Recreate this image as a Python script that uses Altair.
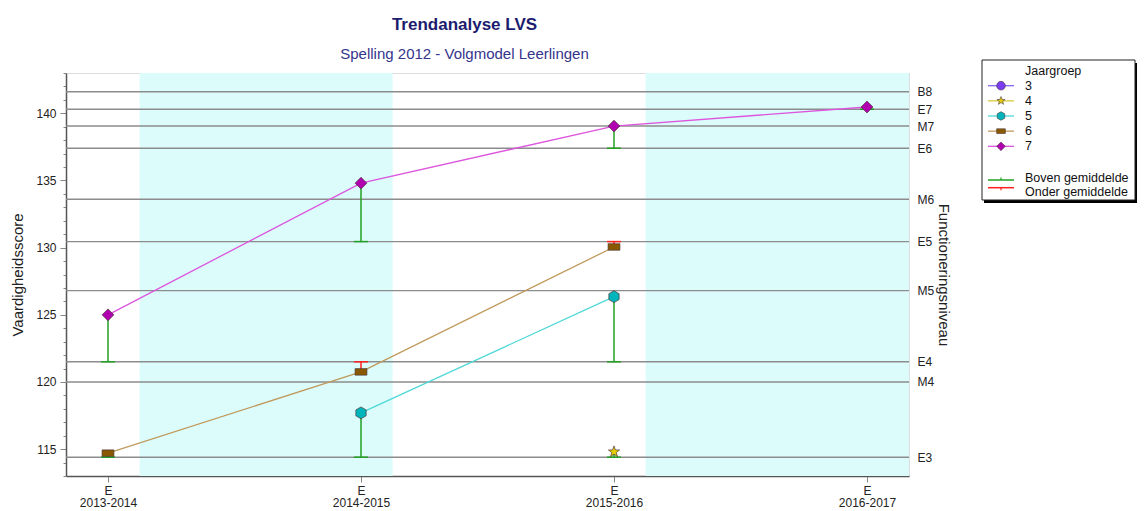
import altair as alt
import pandas as pd

# ---------------- data ----------------
years = ["2013-2014", "2014-2015", "2015-2016", "2016-2017"]
period = ["E", "E", "E", "E"]
groups = ["3", "4", "5", "6", "7"]

score_3 = [None, None, None, None]
score_4 = [None, None, 114.8, None]
score_5 = [None, 117.7, 126.35, None]
score_6 = [114.7, 120.75, 130.05, None]
score_7 = [125.0, 134.8, 139.05, 140.47]

norm_3 = [None, None, None, None]
norm_4 = [None, None, "E3", None]
norm_5 = [None, "E3", "E4", None]
norm_6 = ["E3", "E4", "E5", None]
norm_7 = ["E4", "E5", "E6", "E7"]

level_names = ["E3", "M4", "E4", "M5", "E5", "M6", "E6", "M7", "E7", "B8"]
level_values = [114.4, 120.0, 121.5, 126.8, 130.45, 133.6, 137.4, 139.05, 140.3, 141.6]

band_start = [0.125, 2.125]
band_end = [1.125, 3.166]

legend_extra = ["Boven gemiddelde", "Onder gemiddelde"]

# ---------------- styles ----------------
FONT = "Liberation Sans"
line_colors = ["#8866ee", "#d8c840", "#50d8d8", "#c09a5c", "#dd55dd"]
fill_colors = ["#7a3cf0", "#e6cc00", "#00b4bc", "#8a5800", "#b000b0"]
STAR = "M0,-1L0.24,-0.32L0.95,-0.31L0.38,0.12L0.59,0.81L0,0.4L-0.59,0.81L-0.38,0.12L-0.95,-0.31L-0.24,-0.32Z"
HEX = "M0,-1L0.87,-0.5L0.87,0.5L0,1L-0.87,0.5L-0.87,-0.5Z"
RECT = "M-1,-0.55L1,-0.55L1,0.55L-1,0.55Z"
shapes = ["circle", STAR, HEX, RECT, "diamond"]
GREEN = "#22a022"
RED = "#ff2020"
LEG_FS = 12.5

scores = {"3": score_3, "4": score_4, "5": score_5, "6": score_6, "7": score_7}
norms = {"3": norm_3, "4": norm_4, "5": norm_5, "6": norm_6, "7": norm_7}

rows = []
for g in groups:
    for i in range(len(years)):
        s = scores[g][i]
        if s is None:
            continue
        n = norms[g][i]
        ref = level_values[level_names.index(n)] if n else None
        rows.append({"group": g, "xi": i, "score": s, "ref": ref,
                     "dir": ("boven" if (ref is not None and s >= ref) else "onder")})
df = pd.DataFrame(rows)
err = df.dropna(subset=["ref"])
levels_df = pd.DataFrame({"level": level_names, "value": level_values})
bands_df = pd.DataFrame({"start": band_start, "end": band_end})

W, H = 843, 403
xscale = alt.Scale(domain=[-0.166, 3.166], nice=False, zero=False)
yscale = alt.Scale(domain=[113, 143], nice=False, zero=False)

xlab = "[" + ",".join("['%s','%s']" % (p, y) for p, y in zip(period, years)) + "][round(datum.value)]"
xaxis = alt.Axis(values=list(range(len(years))), labelExpr=xlab, title=None, grid=False,
                 tickSize=6, tickColor="#888", domainColor="#555", domainWidth=1.5,
                 labelFontSize=12, labelLineHeight=12.5, labelColor="#222", labelPadding=3,
                 labelFont=FONT)
yaxis = alt.Axis(values=list(range(113, 144)),
                 labelExpr="datum.value % 5 === 0 ? datum.label : ''",
                 tickSize={"condition": {"test": "datum.value % 5 === 0", "value": 6}, "value": 3},
                 tickColor="#888", domainColor="#555", domainWidth=1.5, grid=False,
                 title="Vaardigheidsscore", titleFontSize=15, titleFontWeight="normal",
                 titleColor="#222", titlePadding=10, labelFontSize=12, labelColor="#222",
                 labelPadding=4, labelFont=FONT, titleFont=FONT)


def X(f):
    return alt.X(f, type="quantitative", scale=xscale, axis=xaxis)


def Y(f):
    return alt.Y(f, type="quantitative", scale=yscale, axis=yaxis)


stroke_scale = alt.Scale(domain=groups, range=line_colors)
fill_scale = alt.Scale(domain=groups, range=fill_colors)
shape_scale = alt.Scale(domain=groups, range=shapes)

bands = alt.Chart(bands_df).mark_rect(color="#dcfcfc").encode(
    x=X("start"), x2="end")

rules = alt.Chart(levels_df).mark_rule(color="#8c8c8c", strokeWidth=1.4).encode(y=Y("value"))

lines = alt.Chart(df).mark_line(strokeWidth=1.3).encode(
    x=X("xi"), y=Y("score"),
    stroke=alt.Stroke("group:N", scale=stroke_scale, legend=None),
    detail="group:N")

err_g = err[err["dir"] == "boven"]
err_r = err[err["dir"] == "onder"]

eg = alt.Chart(err_g).mark_rule(color=GREEN, strokeWidth=1.5).encode(
    x=X("xi"), y=Y("score"), y2="ref")
egc = alt.Chart(err_g).mark_rule(color=GREEN, strokeWidth=1.5, xOffset=-7, x2Offset=7).encode(
    x=X("xi"), x2="xi", y=Y("ref"))
er = alt.Chart(err_r).mark_rule(color=RED, strokeWidth=1.5).encode(
    x=X("xi"), y=Y("score"), y2="ref")
erc = alt.Chart(err_r).mark_rule(color=RED, strokeWidth=1.5, xOffset=-7, x2Offset=7).encode(
    x=X("xi"), x2="xi", y=Y("ref"))

points = alt.Chart(df).mark_point(filled=True, size=140, stroke="#4a3a3a", strokeWidth=0.7,
                                  opacity=1).encode(
    x=X("xi"), y=Y("score"),
    shape=alt.Shape("group:N", scale=shape_scale, legend=None),
    fill=alt.Fill("group:N", scale=fill_scale, legend=None))

# ---------------- manual legend ----------------
LX0, LX1, LY0, LY1 = 916, 1069, -13, 127
box_df = pd.DataFrame({"k": [0]})
shadow = alt.Chart(box_df).mark_rect(color="#000").encode(
    x=alt.value(LX0 + 2), x2=alt.value(LX1 + 2), y=alt.value(LY0 + 3), y2=alt.value(LY1 + 3))
box = alt.Chart(box_df).mark_rect(fill="white", stroke="#222", strokeWidth=1).encode(
    x=alt.value(LX0), x2=alt.value(LX1), y=alt.value(LY0), y2=alt.value(LY1))
leg_title = alt.Chart(box_df).mark_text(align="left", baseline="middle", fontSize=LEG_FS,
                                        font=FONT, color="#111").encode(
    x=alt.value(959), y=alt.value(-2.3), text=alt.value("Jaargroep"))

leg_df = pd.DataFrame({"group": groups, "idx": list(range(len(groups)))})
leg_base = alt.Chart(leg_df).transform_calculate(ly="12.7 + 15.15*datum.idx")
leg_lines = leg_base.mark_rule(strokeWidth=1.3).encode(
    x=alt.value(922), x2=alt.value(948), y=alt.Y("ly:Q", scale=None),
    stroke=alt.Stroke("group:N", scale=stroke_scale, legend=None))
leg_pts = leg_base.mark_point(filled=True, size=75, stroke="#4a3a3a", strokeWidth=0.6,
                              opacity=1).encode(
    x=alt.value(935), y=alt.Y("ly:Q", scale=None),
    shape=alt.Shape("group:N", scale=shape_scale, legend=None),
    fill=alt.Fill("group:N", scale=fill_scale, legend=None))
leg_txt = leg_base.mark_text(align="left", baseline="middle", fontSize=LEG_FS, font=FONT,
                             color="#111").encode(
    x=alt.value(959), y=alt.Y("ly:Q", scale=None), text="group:N")

ext_df = pd.DataFrame({"name": legend_extra, "ly": [105, 119], "lineY": [107, 114.7],
                       "tickY": [104.5, 117.2], "col": [GREEN, RED]})
ext_base = alt.Chart(ext_df)
ext_line = ext_base.mark_rule(strokeWidth=1.5).encode(
    x=alt.value(922), x2=alt.value(948), y=alt.Y("lineY:Q", scale=None),
    color=alt.Color("col:N", scale=None))
ext_tick = ext_base.mark_rule(strokeWidth=1.2).encode(
    x=alt.value(935), y=alt.Y("lineY:Q", scale=None), y2="tickY",
    color=alt.Color("col:N", scale=None))
ext_txt = ext_base.mark_text(align="left", baseline="middle", fontSize=LEG_FS, font=FONT,
                             color="#111").encode(
    x=alt.value(959), y=alt.Y("ly:Q", scale=None), text="name:N")

inner = alt.layer(bands, rules, lines, eg, egc, er, erc, points,
                  shadow, box, leg_title, leg_lines, leg_pts, leg_txt,
                  ext_line, ext_tick, ext_txt)

rlab = "[" + ",".join("'%s'" % n for n in level_names) + "][indexof([" + \
       ",".join(str(v) for v in level_values) + "], datum.value)]"
right_axis = alt.Chart(levels_df).mark_rule(strokeOpacity=0).encode(
    y=alt.Y("value:Q", scale=yscale,
            axis=alt.Axis(orient="right", values=level_values, labelExpr=rlab,
                          ticks=False, domain=False, grid=False, labelPadding=8,
                          labelFontSize=12, labelColor="#222", labelFont=FONT,
                          title="Functioneringsniveau", titleFontSize=15,
                          titleFontWeight="normal", titleColor="#222", titleFont=FONT,
                          titlePadding=2, titleAngle=90)))

chart = alt.layer(inner, right_axis).resolve_scale(y="independent").properties(
    width=W, height=H,
    title=alt.TitleParams("Trendanalyse LVS", subtitle="Spelling 2012 - Volgmodel Leerlingen",
                          fontSize=17, subtitleFontSize=15, font=FONT, subtitleFont=FONT,
                          color="#1c1c6e", subtitleColor="#34348c", anchor="middle",
                          dx=-23, offset=-3, subtitlePadding=13),
    padding={"left": 2, "top": 7, "right": 0, "bottom": 0},
).configure_view(strokeWidth=0).configure(font=FONT)

chart.save("out.html", embed_options={"renderer": "svg", "actions": False})
